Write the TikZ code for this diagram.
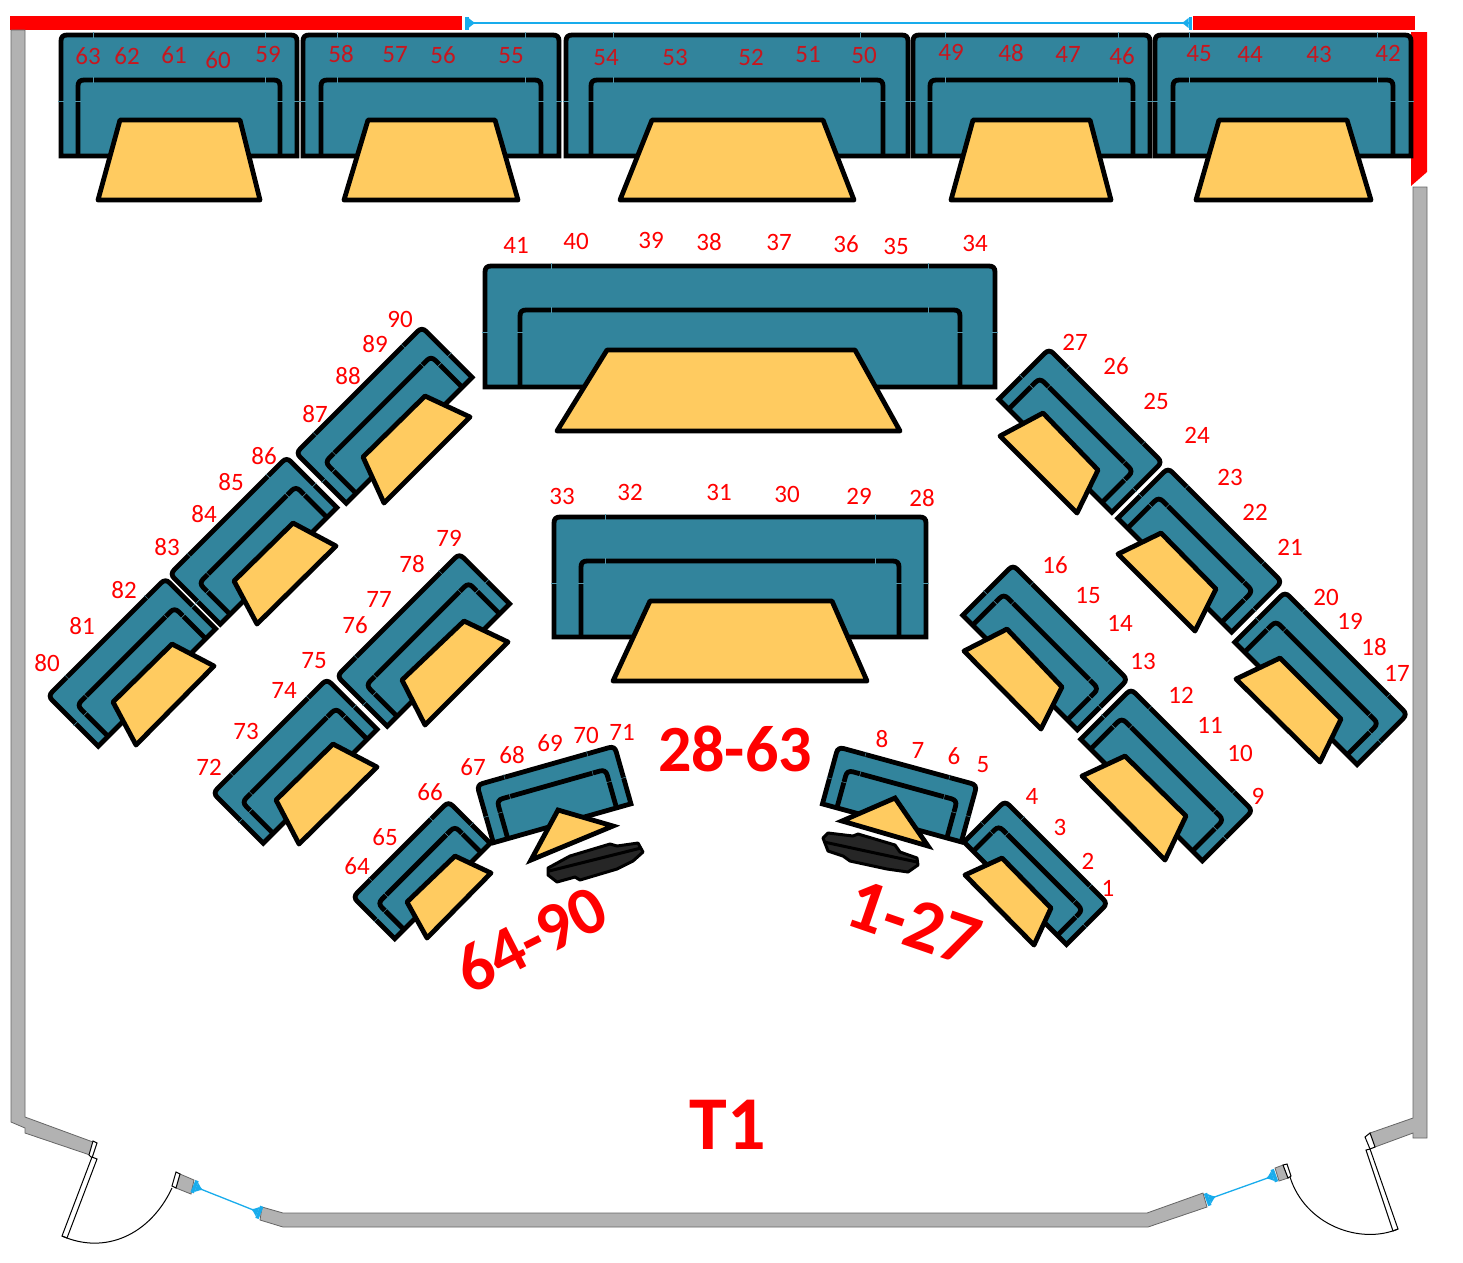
\documentclass[tikz,border=0pt]{standalone}
\usepackage{fontspec}
\setmainfont{Carlito}
\usetikzlibrary{arrows.meta}
\definecolor{boothteal}{HTML}{32849C}
\definecolor{tablegold}{HTML}{FFCB60}
\definecolor{wallgrey}{HTML}{B2B2B2}
\definecolor{dimblue}{HTML}{18ACEC}
\definecolor{darkseat}{HTML}{C8161E}
\newcommand{\booth}[7]{%
  \begin{scope}[shift={(#1,#2)},rotate=#3]
    \draw[boothline,fill=boothteal] (0,#5) -- (0,6) .. controls (0,2) and (2,0) .. (6,0)
      -- ({#4-6},0) .. controls ({#4-2},0) and (#4,2) .. (#4,6) -- (#4,#5) -- cycle;
    \draw[boothline] (#6,#5) -- (#6,{#7+6}) .. controls (#6,{#7+2}) and ({#6+2},#7) .. ({#6+6},#7)
      -- ({#4-#6-6},#7) .. controls ({#4-#6-2},#7) and ({#4-#6},{#7+2}) .. ({#4-#6},{#7+6}) -- ({#4-#6},#5);
    \foreach \k in {{1.9*#6},{#4-1.9*#6}} {
      \draw[boothtick] ({\k},-3) -- ({\k},3);
      \draw[boothtick] ({\k},{#7-3}) -- ({\k},{#7+3});
    }
    \draw[boothtick] (-3,{.55*#5}) -- (3,{.55*#5});
    \draw[boothtick] ({#6-3},{.55*#5}) -- ({#6+3},{.55*#5});
    \draw[boothtick] ({#4-3},{.55*#5}) -- ({#4+3},{.55*#5});
    \draw[boothtick] ({#4-#6-3},{.55*#5}) -- ({#4-#6+3},{.55*#5});
  \end{scope}}
\begin{document}
\begin{tikzpicture}[x=1pt,y=-1pt,
  boothline/.style={draw=black,line width=4.8pt},
  boothtick/.style={draw=boothteal!85!white,line width=.4pt},
  tabletop/.style={draw=black,fill=tablegold,line width=4.8pt,line join=round},
  tabletip/.style={tabletop,line join=miter,miter limit=10},
  wall/.style={draw=black!60,fill=wallgrey,line width=.8pt},
  thinwhite/.style={draw=black,fill=white,line width=1pt},
  swing/.style={draw=black,line width=1pt},
  redwall/.style={fill=red},
  stagebar/.style={draw=black,fill=black!85,line width=3pt,line join=round},
  dimline/.style={draw=dimblue,line width=1.3pt,
    {Bar[width=13pt,line width=3.5pt]Latex[reversed,length=7pt,width=11pt]}-{Latex[reversed,length=7pt,width=11pt]Bar[width=13pt,line width=3.5pt]}},
  seat/.style={text=red,font=\fontsize{25}{25}\selectfont,inner sep=0pt},
  topseat/.style={seat,text=darkseat},
  bigtag/.style={text=red,font=\fontsize{#1}{#1}\selectfont\bfseries,inner sep=0pt}]
\path[fill=white,use as bounding box] (0,0) rectangle (1463,1262);

% walls
\path[redwall] (10,16) rectangle (462,30);
\path[redwall] (1193,16) rectangle (1415,30);
\path[redwall] (1411,32) -- (1427,32) -- (1427,172) -- (1411,186) -- cycle;
\draw[wall] (11,30) -- (25,30) -- (25,1117) -- (93,1142) -- (90,1155) -- (25,1133) -- (25,1128) -- (11,1122) -- cycle;
\draw[wall] (1413,187) -- (1427,187) -- (1427,1138) -- (1413,1138) -- (1413,1133) -- (1375,1147) -- (1370,1133) -- (1413,1118) -- cycle;
\draw[wall] (262,1207) -- (283,1213) -- (1147,1213) -- (1203,1193) -- (1207,1207) -- (1148,1227) -- (283,1227) -- (260,1220) -- cycle;
\draw[wall] (180,1174) -- (194,1180) -- (191,1194) -- (176,1188) -- cycle;
\draw[wall] (1275,1168) -- (1283,1165) -- (1288,1178) -- (1279,1181) -- cycle;

% doors
\draw[thinwhite] (93,1141) -- (97,1143) -- (92,1158) -- (89,1155) -- cycle;
\draw[thinwhite] (92,1157) -- (97,1159) -- (67,1238) -- (62,1236) -- cycle;
\draw[swing] (62,1236) .. controls (105,1255) and (150,1235) .. (172,1188);
\draw[thinwhite] (176,1172) -- (180,1174) -- (176,1188) -- (172,1186) -- cycle;
\draw[thinwhite] (1370,1133) -- (1375,1147) -- (1370,1149) -- (1365,1137) -- cycle;
\draw[thinwhite] (1366,1150) -- (1370,1149) -- (1398,1229) -- (1393,1231) -- cycle;
\draw[swing] (1290,1177) .. controls (1305,1225) and (1360,1245) .. (1398,1229);
\draw[thinwhite] (1283,1165) -- (1287,1164) -- (1291,1176) -- (1288,1178) -- cycle;

% dimensions
\coordinate (topdimleft) at (465,23);
\coordinate (topdimright) at (1192,23);
\coordinate (leftdimdoor) at (193,1186);
\coordinate (leftdimwall) at (261,1213);
\coordinate (rightdimwall) at (1206,1200);
\coordinate (rightdimdoor) at (1276,1175);
\draw[dimline] (topdimleft) -- (topdimright);
\draw[dimline] (leftdimdoor) -- (leftdimwall);
\draw[dimline] (rightdimwall) -- (rightdimdoor);

% booths
\foreach \x/\y/\a/\W/\H/\i/\d in {61/35/0/236/121/17/45,303/35/0/256/121/18/45,566/35/0/342/121/25/45,
  913/35/0/237/121/17/45,1155/35/0/256/121/18/45,485/266/0/510/121/35/44,554/517/0/372/120/27/44,
  296/453/45/178/71/14/27,170/574/45/165/71/14/27,48/696/45/166/71/14/27,337/676/45/173/71/14/27,213/793/45/161/71/14/27,
  353/897/45/135/59/13/22,477/785/15.8/143/60/15/20,
  1049/349/-45/160/71/14/27,1168/468/-45/161/71/14/27,1285/592/-45/173/71/14/27,1013/565/-45/162/71/14/27,1131/689/-45/172/71/14/27,
  1005/801/-45/145/58/13/22,838/747/-15.3/144/59/15/20} {
  \booth{\x}{\y}{\a}{\W}{\H}{\i}{\d}
}

% tables
\foreach \p in {{(98,200) -- (120,120) -- (240,120) -- (260,200)},{(344,200) -- (368,120) -- (495,120) -- (518,200)},
  {(620,200) -- (652,120) -- (823,120) -- (854,200)},{(951,200) -- (973,120) -- (1090,120) -- (1111,200)},
  {(1196,200) -- (1219,120) -- (1347,120) -- (1371,200)},{(557,431) -- (607,350) -- (855,350) -- (900,431)},
  {(613,681) -- (650,601) -- (832,601) -- (867,681)},
  {(363,457) -- (425,396) -- (470,417) -- (384,503)},{(234,581) -- (293,523) -- (336,546) -- (257,624)},
  {(113,702) -- (172,644) -- (214,666) -- (136,745)},{(402,680) -- (464,621) -- (508,642) -- (425,725)},
  {(276,800) -- (333,744) -- (377,767) -- (299,844)},{(407,902) -- (455,856) -- (491,873) -- (427,938)},
  {(1043,413) -- (1098,470) -- (1077,513) -- (1000,436)},{(1161,533) -- (1216,589) -- (1195,631) -- (1118,554)},
  {(1280,658) -- (1341,719) -- (1320,762) -- (1236,679)},{(1007,629) -- (1062,687) -- (1041,729) -- (964,651)},
  {(1125,756) -- (1186,816) -- (1165,860) -- (1082,776)},{(1002,858) -- (1051,908) -- (1034,945) -- (965,875)}} {
  \draw[tabletop] \p -- cycle;
}
\draw[tabletip] (558,810) -- (613,826) -- (531,860) -- cycle;
\draw[tabletip] (895,798) -- (928,846) -- (842,821) -- cycle;

% stage pieces
\draw[stagebar] (548,868) -- (570,856) -- (610,844) -- (617,846) -- (638,843) -- (643,852) -- (633,861) -- (617,869) -- (580,880) -- (575,877) -- (557,882) -- (548,875) -- cycle;
\draw[line width=3pt] (549,871) -- (641,848);
\draw[stagebar] (823,838) -- (828,833) -- (853,836) -- (858,834) -- (895,845) -- (900,852) -- (917,858) -- (918,865) -- (908,872) -- (887,869) -- (850,861) -- (843,856) -- (828,851) -- cycle;
\draw[line width=3pt] (824,842) -- (917,862);

% seat numbers
\foreach \n/\x/\y in {1/1108/888,2/1088/861,3/1060/827,4/1032/796,5/983/765,6/954/756,7/918/750,8/882/739,9/1258/796,
  10/1240/753,11/1210/725,12/1181/695,13/1143/661,14/1120/623,15/1088/596,16/1055/565,17/1397/673,18/1374/647,19/1350/621,
  20/1326/597,21/1290/547,22/1255/512,23/1230/477,24/1197/435,25/1156/401,26/1116/366,27/1075/342,28/922/498,29/859/496,
  30/787/494,31/719/492,32/630/492,33/562/496,34/975/243,35/896/246,36/846/244,37/779/242,38/709/242,39/651/240,40/576/241,41/516/245,
  64/357/866,65/385/837,66/430/792,67/473/767,68/512/755,69/550/743,70/586/735,71/622/732,72/209/767,73/246/731,74/284/690,
  75/314/661,76/355/625,77/379/599,78/412/564,79/449/538,80/47/663,81/82/626,82/124/590,83/167/547,84/204/514,85/231/482,
  86/264/456,87/315/414,88/348/376,89/375/344,90/400/319} {
  \node[seat] (seat\n) at (\x,\y) {\n};
}
\foreach \n/\x/\y in {42/1388/53,43/1319/54,44/1250/54,45/1199/54,46/1122/56,47/1068/54,48/1011/53,49/951/52,50/864/55,
  51/808/55,52/751/57,53/675/57,54/606/58,55/511/56,56/443/55,57/395/55,58/341/54,59/268/54,60/218/60,61/174/55,62/127/56,63/88/56} {
  \node[topseat] (seat\n) at (\x,\y) {\n};
}

% section tags
\node[bigtag=66] (tagmiddle) at (735,749) {28-63};
\node[bigtag=68,rotate=27] (tagleft) at (531,939) {64-90};
\node[bigtag=74,rotate=-19] (tagright) at (914,923) {1-27};
\node[bigtag=76] (tagroom) at (728,1125) {T1};
\end{tikzpicture}
\end{document}
